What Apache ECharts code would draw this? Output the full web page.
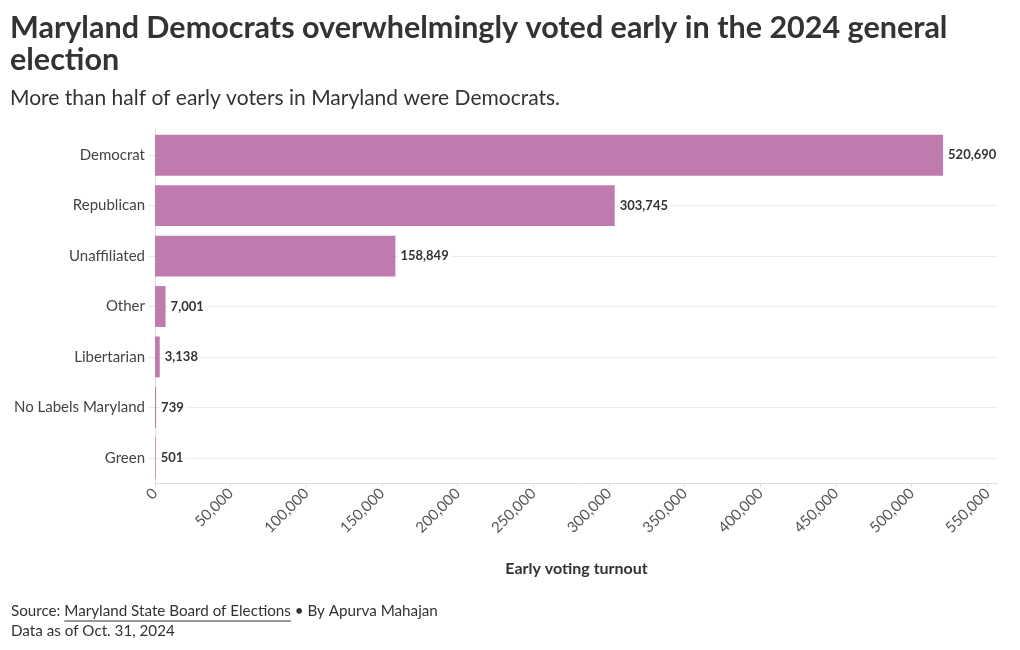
<!DOCTYPE html>
<html>
<head>
<meta charset="utf-8">
<script src="https://cdn.jsdelivr.net/npm/echarts@6/dist/echarts.min.js"></script>
<style>
html,body{margin:0;padding:0;background:#fff;}
#chart{width:1020px;height:650px;}
</style>
</head>
<body>
<div id="chart"></div>
<script>
const categories = ['Democrat', 'Republican', 'Unaffiliated', 'Other', 'Libertarian', 'No Labels Maryland', 'Green'];
const turnout = [520690, 303745, 158849, 7001, 3138, 739, 501];
const xMax = 557000;
const xInterval = 50000;

const FONT = 'Lato, "Noto Sans", sans-serif';
const chart = echarts.init(document.getElementById('chart'), null, {renderer: 'canvas'});

const srcPrefix = 'Source: ';
const srcLink = 'Maryland State Board of Elections';
const ctx = document.createElement('canvas').getContext('2d');
ctx.font = '15.2px ' + FONT;
const prefixW = ctx.measureText(srcPrefix).width;
const linkW = ctx.measureText(srcLink).width;

chart.setOption({
  backgroundColor: '#ffffff',
  animation: false,
  textStyle: {fontFamily: FONT},
  title: [
    {
      text: 'Maryland Democrats overwhelmingly voted early in the 2024 general\nelection',
      left: 10, top: 12, padding: 0,
      textStyle: {fontFamily: FONT, fontSize: 30.5, fontWeight: 'bold', color: '#333333', lineHeight: 32}
    },
    {
      text: 'More than half of early voters in Maryland were Democrats.',
      left: 10, top: 86, padding: 0,
      textStyle: {fontFamily: FONT, fontSize: 21, fontWeight: 'normal', color: '#333333', lineHeight: 24}
    }
  ],
  grid: {left: 155, right: 22, top: 130, bottom: 167, containLabel: false},
  xAxis: {
    type: 'value',
    min: 0,
    max: xMax,
    interval: xInterval,
    name: 'Early voting turnout',
    nameLocation: 'middle',
    nameGap: 78,
    nameTextStyle: {fontFamily: FONT, fontSize: 16, fontWeight: 'bold', color: '#333333'},
    axisLine: {show: true, lineStyle: {color: '#e0e0e0'}},
    axisTick: {show: true, length: 4, lineStyle: {color: '#dddddd'}},
    splitLine: {show: false},
    axisLabel: {
      rotate: 45,
      showMaxLabel: false,
      fontFamily: FONT, fontSize: 15, color: '#555555', margin: 8,
      formatter: v => v.toLocaleString('en-US')
    }
  },
  yAxis: {
    type: 'category',
    inverse: true,
    data: categories,
    axisLine: {show: true, lineStyle: {color: '#e0e0e0'}},
    axisTick: {show: true, alignWithLabel: true, length: 6, lineStyle: {color: '#e6e6e6'}},
    axisLabel: {fontFamily: FONT, fontSize: 15, color: '#444444', margin: 10}
  },
  series: [
    {
      type: 'bar',
      data: turnout,
      barCategoryGap: '19%',
      itemStyle: {color: '#c07bae'},
      z: 2,
      label: {
        show: true,
        position: 'right',
        distance: 3,
        fontFamily: FONT, fontSize: 13, fontWeight: 'bold', color: '#333333',
        backgroundColor: '#ffffff',
        padding: [1, 2],
        formatter: p => p.value.toLocaleString('en-US')
      },
      markLine: {
        silent: true,
        z: 1,
        symbol: 'none',
        label: {show: false},
        lineStyle: {color: '#ececec', type: 'solid', width: 1},
        data: categories.map(c => ({yAxis: c}))
      }
    }
  ],
  graphic: [
    {
      type: 'text', left: 11, top: 604,
      style: {text: srcPrefix, font: '15.2px ' + FONT, fill: '#333333'}
    },
    {
      type: 'text', left: 11 + prefixW, top: 604,
      style: {text: srcLink, font: '15.2px ' + FONT, fill: '#333333'}
    },
    {
      type: 'line',
      shape: {x1: 11 + prefixW, y1: 621, x2: 11 + prefixW + linkW, y2: 621},
      style: {stroke: '#333333', lineWidth: 1}
    },
    {
      type: 'text', left: 11 + prefixW + linkW, top: 604,
      style: {text: ' \u2022 By Apurva Mahajan', font: '15.2px ' + FONT, fill: '#333333'}
    },
    {
      type: 'text', left: 11, top: 624,
      style: {text: 'Data as of Oct. 31, 2024', font: '15.2px ' + FONT, fill: '#333333'}
    }
  ]
});
</script>
</body>
</html>
